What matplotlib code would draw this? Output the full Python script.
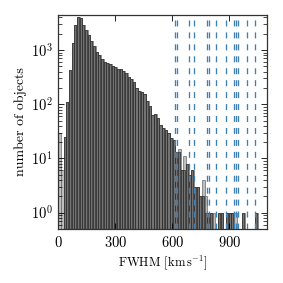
import numpy as np
import matplotlib
matplotlib.use("Agg")
import matplotlib.pyplot as plt

plt.rcParams.update({
    "font.family": "serif",
    "font.serif": ["cmr10"],
    "mathtext.fontset": "cm",
    "axes.formatter.use_mathtext": True,
    "axes.unicode_minus": False,
    "lines.scale_dashes": False,
})

bin_width = 14
# counts per 14 km/s bin starting at 0 (total, incl. light-gray part)
counts_all = [29, 6, 25, 110, 425, 1350, 2950, 4100, 3900, 2870,
              2320, 1870, 1450, 1170, 920, 800, 695, 600, 580, 565,
              510, 490, 443, 455, 410, 370, 323, 289, 261, 197,
              178, 166, 155, 116, 93, 63, 65, 57, 41, 37,
              34, 30, 24, 22, 13, 15, 6, 11, 8, 5,
              6, 3, 3, 2, 4, 2, 1, 1, 1, 0,
              1, 1, 0, 1, 1, 1, 1, 0, 0, 1,
              0, 0, 0, 0, 1]
# darker (overlapping) part
counts_dark = [0, 0, 25, 110, 425, 1350, 2950, 4100, 3900, 2870,
               2320, 1870, 1450, 1170, 920, 800, 695, 600, 580, 565,
               510, 490, 443, 455, 410, 370, 323, 289, 261, 197,
               178, 166, 155, 116, 93, 63, 65, 57, 41, 37,
               34, 30, 24, 22, 13, 13, 6, 6, 8, 5,
               6, 3, 3, 2, 2, 1, 1, 1, 0, 0,
               1, 1, 0, 1, 1, 1, 0, 0, 0, 1,
               0, 0, 0, 0, 1]
line_positions = [612, 622, 688, 714, 781, 793, 830, 883, 926, 935, 944, 995, 1032]

edges = np.arange(len(counts_all)) * bin_width

fig = plt.figure(figsize=(2.83, 2.83), dpi=100)
ax = fig.add_axes([0.206, 0.191, 0.739, 0.757])

ca = np.array(counts_all, float)
cd = np.array(counts_dark, float)
ca = np.where(ca > 0, ca, np.nan)
cd = np.where(cd > 0, cd, np.nan)
# light-gray full-width bars
ax.bar(edges, ca, width=bin_width, align="edge",
       color="0.75", edgecolor="0.3", linewidth=0.4)
# darker overlapping bars
ax.bar(edges, cd, width=bin_width * 0.78, align="edge",
       color="0.45", edgecolor="0.15", linewidth=0.5)

for xp in line_positions:
    ax.axvline(xp, color="#3f7fb4", lw=0.95, dashes=(4.3, 4.3))

ax.set_yscale("log")
ax.set_xlim(0, 1100)
ax.set_ylim(0.5, 4500)
ax.set_xticks([0, 300, 600, 900])

ax.tick_params(which="both", direction="in", top=True, right=True,
               labelsize=10.5, pad=4)
ax.tick_params(which="major", length=4, width=0.6)
ax.tick_params(which="minor", length=3, width=0.5)
ax.tick_params(axis="x", which="minor", bottom=False, top=False)
for s in ax.spines.values():
    s.set_linewidth(0.9)
    s.set_color("0.2")

ax.set_xlabel(r"FWHM $[\mathrm{km\,s^{-1}}]$", fontsize=9, labelpad=3)
ax.set_ylabel("number of objects", fontsize=10, labelpad=3)

fig.savefig("out.png", dpi=100)
